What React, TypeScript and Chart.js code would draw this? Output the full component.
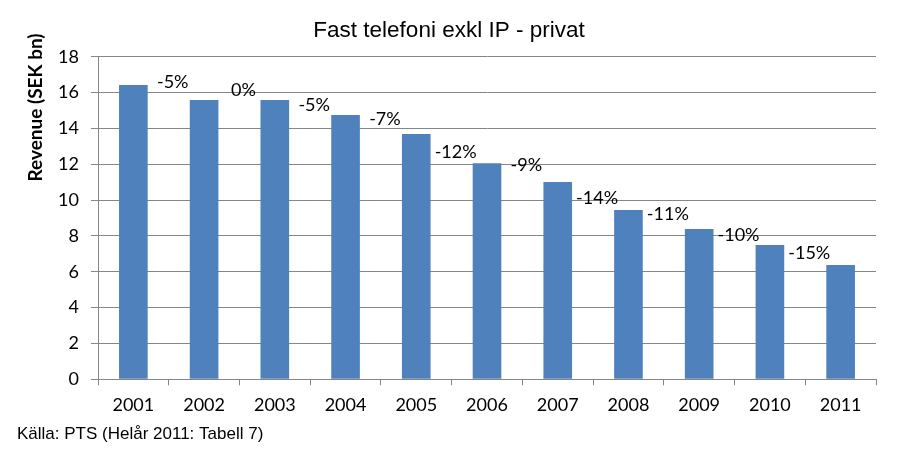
import React, { useEffect, useRef } from "react";
import { Chart, registerables } from "chart.js";

Chart.register(...registerables);

const years = ["2001", "2002", "2003", "2004", "2005", "2006", "2007", "2008", "2009", "2010", "2011"];
const revenue = [16.42, 15.59, 15.59, 14.75, 13.69, 12.05, 11.01, 9.45, 8.39, 7.49, 6.38];
const growthLabels = ["-5%", "0%", "-5%", "-7%", "-12%", "-9%", "-14%", "-11%", "-10%", "-15%"];
const growthLabelY = [16.59, 16.14, 15.31, 14.53, 12.69, 11.96, 10.12, 9.23, 8.06, 7.05];
const titleText = "Fast telefoni exkl IP - privat";
const yTitleText = "Revenue (SEK bn)";
const sourceText = "Källa: PTS (Helår 2011: Tabell 7)";

const GRID = "#868686";
const BAR = "#4F81BD";

const extrasPlugin = {
  id: "extras",
  afterDatasetsDraw(chart: any) {
    const { ctx, scales } = chart;
    const x = scales.x;
    const y = scales.y;
    ctx.save();
    ctx.fillStyle = "#000";
    ctx.font = "18px Lato";
    ctx.textAlign = "center";
    ctx.textBaseline = "middle";
    growthLabels.forEach((t, i) => {
      ctx.fillText(t, x.getPixelForValue(i + 0.5) + 4, y.getPixelForValue(growthLabelY[i]));
    });
    ctx.restore();
  },
  afterDraw(chart: any) {
    const { ctx } = chart;
    ctx.save();
    ctx.fillStyle = "#000";
    ctx.textBaseline = "middle";
    ctx.textAlign = "center";
    ctx.font = "22.5px 'Liberation Sans'";
    ctx.fillText(titleText, 449, 31);
    ctx.textAlign = "left";
    ctx.font = "17px 'Liberation Sans'";
    ctx.fillText(sourceText, 17, 434);
    ctx.translate(36, 107.5);
    ctx.rotate(-Math.PI / 2);
    ctx.textAlign = "center";
    ctx.font = "bold 19px Lato";
    ctx.fillText(yTitleText, 0, 0);
    ctx.restore();
  },
};

export default function App() {
  const ref = useRef<HTMLCanvasElement>(null);
  useEffect(() => {
    if (!ref.current) return;
    const chart = new Chart(ref.current, {
      type: "bar",
      data: {
        labels: years,
        datasets: [
          {
            data: revenue,
            backgroundColor: BAR,
            borderWidth: 0,
            barPercentage: 1,
            categoryPercentage: 0.405,
          },
        ],
      },
      options: {
        responsive: false,
        animation: false,
        layout: { padding: { top: 56.7, left: 0, right: 23, bottom: 30.7 } },
        plugins: { legend: { display: false }, tooltip: { enabled: false } },
        scales: {
          x: {
            grid: {
              display: true,
              drawOnChartArea: false,
              drawTicks: true,
              tickLength: 6,
              color: GRID,
              offset: true,
            },
            border: { display: true, color: GRID, width: 1 },
            ticks: { color: "#000", font: { family: "Lato", size: 18 }, padding: 9, maxRotation: 0 },
            afterFit: (s: any) => {
              s.height = 40;
            },
          },
          y: {
            min: 0,
            max: 18,
            ticks: { stepSize: 2, color: "#000", font: { family: "Lato", size: 18 }, padding: 12 },
            grid: { color: GRID, tickLength: 7, drawTicks: true },
            border: { display: true, color: GRID, width: 1 },
            afterFit: (s: any) => {
              s.width = 98;
            },
          },
        },
      },
      plugins: [extrasPlugin],
    });
    return () => chart.destroy();
  }, []);
  return (
    <div style={{ position: "absolute", left: 0, top: 0, background: "#fff" }}>
      <canvas ref={ref} width={899} height={450} />
    </div>
  );
}
